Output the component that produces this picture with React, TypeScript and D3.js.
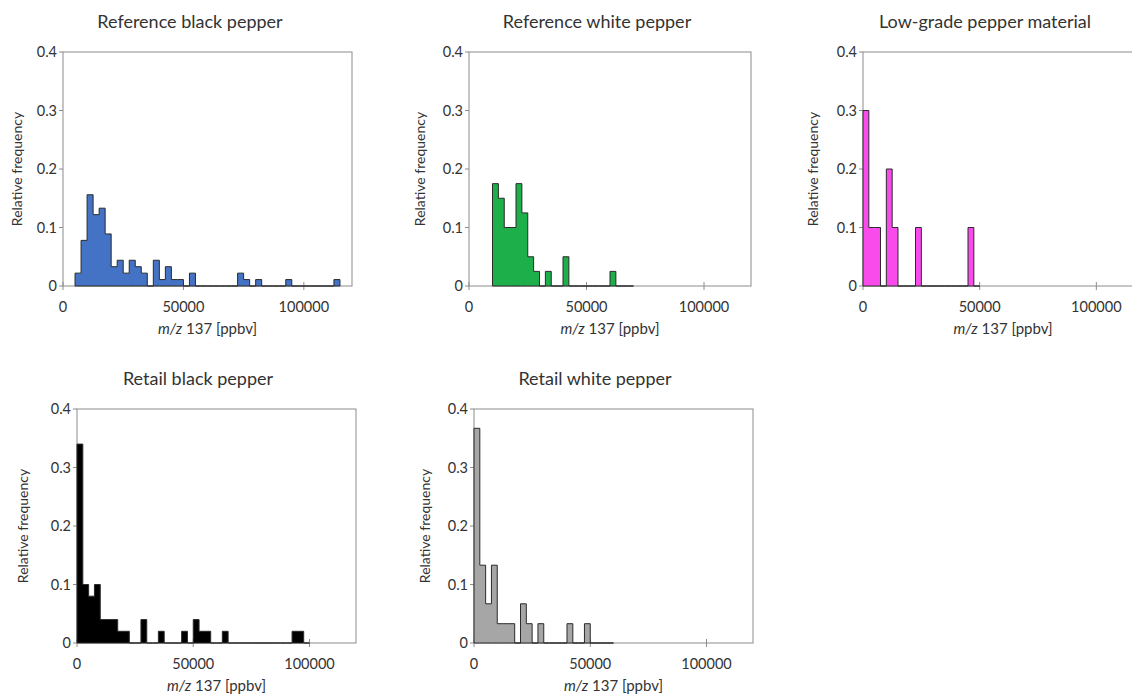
import React from "react";
import * as d3 from "d3";

// histogram bins are 2500 ppbv wide; each series lists relative frequencies from its first bin
const BIN = 2500;

const refBlackStart = 5000;
const refBlackFreq = [
  0.022, 0.078, 0.156, 0.122, 0.133, 0.089, 0.033, 0.044, 0.022, 0.044, 0.033, 0.022,
  0, 0.044, 0.011, 0.033, 0.011, 0.011, 0, 0.022, 0, 0, 0, 0, 0, 0, 0,
  0.022, 0.011, 0, 0.011, 0, 0, 0, 0, 0.011, 0, 0, 0, 0, 0, 0, 0, 0.011,
];

const refWhiteStart = 10000;
const refWhiteFreq = [
  0.175, 0.15, 0.1, 0.1, 0.175, 0.125, 0.05, 0.025, 0, 0.025, 0, 0, 0.05,
  0, 0, 0, 0, 0, 0, 0, 0.025, 0, 0, 0,
];

const lowGradeStart = 0;
const lowGradeFreq = [
  0.3, 0.1, 0.1, 0, 0.2, 0.1, 0, 0, 0, 0.1, 0, 0, 0, 0, 0, 0, 0, 0, 0.1, 0,
];

const retailBlackStart = 0;
const retailBlackFreq = [
  0.34, 0.1, 0.08, 0.1, 0.04, 0.04, 0.04, 0.02, 0.02, 0, 0, 0.04, 0, 0, 0.02, 0, 0, 0,
  0.02, 0, 0.04, 0.02, 0.02, 0, 0, 0.02, 0, 0, 0, 0, 0, 0, 0, 0, 0, 0, 0, 0.02, 0.02, 0,
];

const retailWhiteStart = 0;
const retailWhiteFreq = [
  0.367, 0.133, 0.067, 0.133, 0.033, 0.033, 0.033, 0, 0.067, 0.033, 0, 0.033,
  0, 0, 0, 0, 0.033, 0, 0, 0.033, 0, 0, 0, 0,
];

const xTicks = [0, 50000, 100000];
const yTicks = [0, 0.1, 0.2, 0.3, 0.4];

const panels = [
  { title: "Reference black pepper", start: refBlackStart, freq: refBlackFreq, fill: "#4472C4",
    left: 63, right: 352, top: 52, bottom: 286, titleX: 190, yLabelX: 17 },
  { title: "Reference white pepper", start: refWhiteStart, freq: refWhiteFreq, fill: "#1DAF4A",
    left: 469, right: 751, top: 52, bottom: 286, titleX: 597, yLabelX: 420 },
  { title: "Low-grade pepper material", start: lowGradeStart, freq: lowGradeFreq, fill: "#F94BEC",
    left: 863, right: 1143, top: 52, bottom: 286, titleX: 985, yLabelX: 813 },
  { title: "Retail black pepper", start: retailBlackStart, freq: retailBlackFreq, fill: "#000000",
    left: 77, right: 356, top: 409, bottom: 643, titleX: 198, yLabelX: 23 },
  { title: "Retail white pepper", start: retailWhiteStart, freq: retailWhiteFreq, fill: "#A6A6A6",
    left: 474, right: 753, top: 409, bottom: 643, titleX: 595, yLabelX: 425 },
];

const font = "Lato, 'Open Sans', sans-serif";
const textColor = "#333333";
const frameColor = "#8c8c8c";

function Panel({ p }: { p: (typeof panels)[number] }) {
  const x = d3.scaleLinear().domain([0, 120000]).range([p.left, p.right]);
  const y = d3.scaleLinear().domain([0, 0.4]).range([p.bottom, p.top]);

  const pts = p.freq.map((f, i) => ({ x0: p.start + i * BIN, f }));
  pts.push({ x0: p.start + p.freq.length * BIN, f: 0 });

  const area = d3
    .area<{ x0: number; f: number }>()
    .x((d) => x(d.x0))
    .y0(y(0))
    .y1((d) => y(d.f))
    .curve(d3.curveStepAfter);

  const fmt = d3.format("~g");
  const cy = (p.top + p.bottom) / 2;

  return (
    <g>
      <text x={p.titleX} y={p.top - 24.5} textAnchor="middle" fontSize={18} fill={textColor}>
        {p.title}
      </text>
      <rect x={p.left} y={p.top} width={p.right - p.left} height={p.bottom - p.top}
        fill="none" stroke={frameColor} strokeWidth={1} />
      {yTicks.map((t) => (
        <g key={t}>
          <line x1={p.left - 4} x2={p.left} y1={y(t)} y2={y(t)} stroke={frameColor} />
          <text x={p.left - 6} y={y(t) + 5} textAnchor="end" fontSize={14.5} fill={textColor}>
            {fmt(t)}
          </text>
        </g>
      ))}
      {xTicks.map((t) => (
        <g key={t}>
          <line x1={x(t)} x2={x(t)} y1={p.bottom - 4} y2={p.bottom + 4} stroke={frameColor} />
          <text x={x(t)} y={p.bottom + 26} textAnchor="middle" fontSize={14.5} fill={textColor}>
            {t}
          </text>
        </g>
      ))}
      <path d={area(pts) || ""} fill={p.fill} stroke="#2b2b2b" strokeWidth={1} />
      <text transform={`translate(${p.yLabelX},${cy}) rotate(-90)`} textAnchor="middle"
        dy="0.35em" fontSize={14} fill={textColor}>
        Relative frequency
      </text>
      <text x={(p.left + p.right) / 2} y={p.bottom + 48} textAnchor="middle" fontSize={15} fill={textColor}>
        <tspan fontStyle="italic">m/z</tspan> 137 [ppbv]
      </text>
    </g>
  );
}

export default function App() {
  return (
    <div style={{ position: "absolute", left: 0, top: 0 }}>
      <svg width={1132} height={697} style={{ display: "block", background: "#fff", fontFamily: font }}>
        {panels.map((p) => (
          <Panel key={p.title} p={p} />
        ))}
      </svg>
    </div>
  );
}
